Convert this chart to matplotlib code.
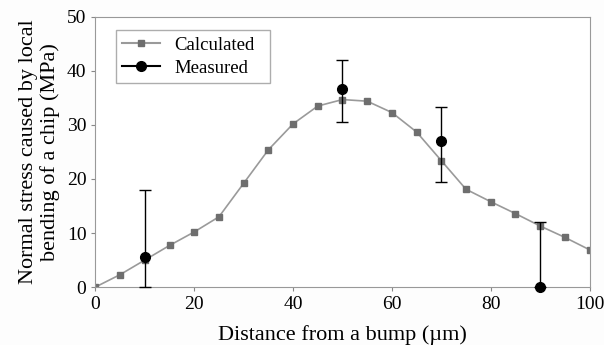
import numpy as np
import matplotlib.pyplot as plt
from matplotlib.lines import Line2D

plt.rcParams['font.family'] = ['Liberation Serif', 'DejaVu Serif']

# calculated stress along the chip
x_calc = [0, 5, 10, 15, 20, 25, 30, 35, 40, 45, 50, 55, 60, 65, 70, 75, 80, 85, 90, 95, 100]
y_calc = [0, 2.3, 5.0, 7.7, 10.2, 13.0, 19.2, 25.4, 30.2, 33.5, 34.7, 34.4, 32.3, 28.7,
          23.4, 18.1, 15.8, 13.6, 11.3, 9.2, 6.9]

# measured points with error bars
x_meas = [10, 50, 70, 90]
y_meas = [5.6, 36.7, 27.1, 0.0]
err_lo = [5.6, 6.2, 7.6, 0.0]
err_hi = [12.4, 5.3, 6.3, 12.0]

fig = plt.figure(figsize=(6.04, 3.45), dpi=100)
fig.patch.set_facecolor('#fdfdfd')
ax = fig.add_axes([0.158, 0.168, 0.818, 0.783])

ax.plot(x_calc, y_calc, color='#9a9a9a', linewidth=1.2, marker='s', markersize=5,
        markerfacecolor='#6e6e6e', markeredgecolor='#6e6e6e', zorder=2)
ax.errorbar(x_meas, y_meas, yerr=[err_lo, err_hi], fmt='o', color='black', markersize=7,
            elinewidth=1.0, capsize=4, capthick=1.0, zorder=3, clip_on=False)

ax.set_xlim(0, 100)
ax.set_ylim(0, 50)
ax.set_xticks([0, 20, 40, 60, 80, 100])
ax.set_yticks([0, 10, 20, 30, 40, 50])
ax.tick_params(axis='both', labelsize=14, direction='out', length=3, color='#888888')
for s in ax.spines.values():
    s.set_color('#999999')

ax.set_xlabel('Distance from a bump (\u00b5m)', fontsize=16, labelpad=9)
ax.set_ylabel('Normal stress caused by local\nbending of a chip (MPa)', fontsize=16,
              linespacing=1.15, labelpad=5)

handles = [
    Line2D([], [], color='#9a9a9a', marker='s', markersize=5,
           markerfacecolor='#6e6e6e', markeredgecolor='#6e6e6e'),
    Line2D([], [], color='black', marker='o', markersize=7),
]
leg = ax.legend(handles, ['Calculated', 'Measured'], loc='upper left', fontsize=13.5,
                frameon=True, fancybox=False, edgecolor='#999999', borderpad=0.35,
                handlelength=2.0, labelspacing=0.3, mode='expand',
                bbox_to_anchor=(0.022, 0.0, 0.35, 0.985))
leg.get_frame().set_linewidth(1.0)

plt.savefig('out.png', dpi=100, facecolor=fig.get_facecolor())
